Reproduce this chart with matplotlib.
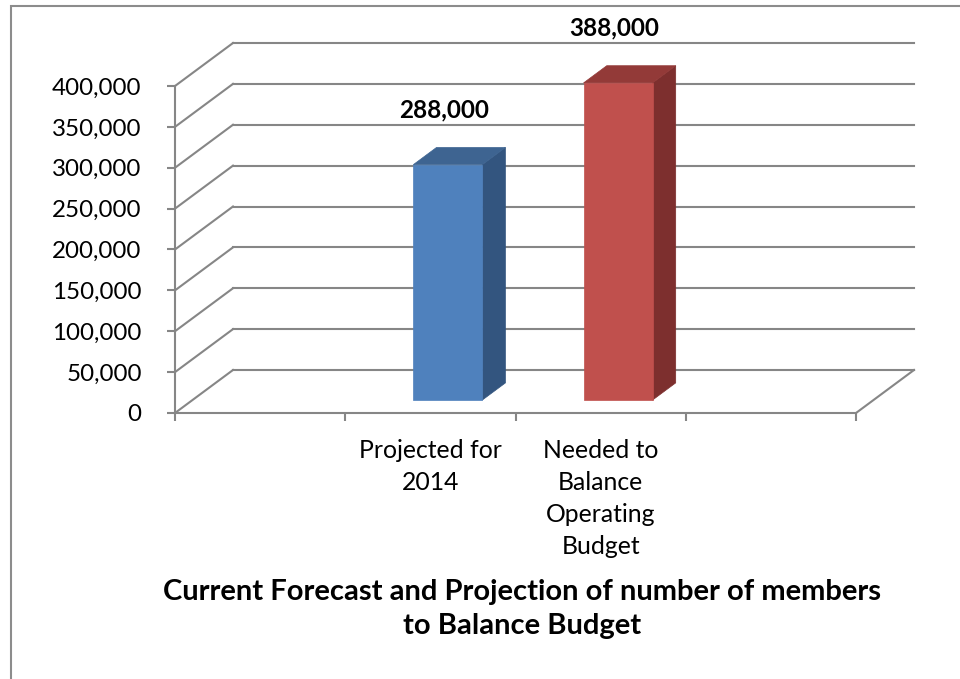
import matplotlib
matplotlib.use('Agg')
import matplotlib.pyplot as plt
from matplotlib.patches import Polygon, Rectangle
import numpy as np

plt.rcParams['font.family'] = ['Lato', 'DejaVu Sans']

# chart data
categories = ['Projected for\n2014', 'Needed to\nBalance\nOperating\nBudget']
values = [288000, 388000]
front_colors = ['#4F81BD', '#C0504D']
side_colors = ['#33557F', '#7D2F2E']
top_colors = ['#3E6491', '#933A38']
y_ticks = np.arange(0, 400001, 50000)
title = 'Current Forecast and Projection of number of members\nto Balance Budget'

W, H = 960, 679
grid_col = '#868686'

fig = plt.figure(figsize=(W / 100, H / 100), dpi=100)
# front plane of the plot: x 175..856 px, y 413..86 px
ax = fig.add_axes([175 / W, 1 - 413 / H, 681 / W, 327 / H])
ax.set_facecolor('none')
ax.set_xlim(0, 4)
ax.set_ylim(0, 400000)

# depth of the 3d box, as a data offset
p0 = ax.transData.transform((0, 0))
ddx, ddy = ax.transData.inverted().transform(p0 + np.array([58, 43]))

# back wall gridlines and side wall diagonals
for v in y_ticks:
    ax.plot([ddx, 4 + ddx], [v + ddy, v + ddy], color=grid_col, lw=1.5, clip_on=False, zorder=1)
    ax.plot([0, ddx], [v, v + ddy], color=grid_col, lw=1.5, clip_on=False, zorder=1)
# right edge of the floor
ax.plot([4, 4 + ddx], [0, ddy], color=grid_col, lw=1.5, clip_on=False, zorder=1)

# bars
x = np.arange(len(categories)) + 1.5
width = 0.405
f0, f1 = 0.3, 0.7
bars = ax.bar(x + f0 * ddx, values, width, bottom=f0 * ddy, color=front_colors,
              edgecolor=front_colors, linewidth=0.5, zorder=4)
for b in bars:
    b.set_clip_on(False)
for xi, v, sc, tc in zip(x, values, side_colors, top_colors):
    xl = xi - width / 2
    xr = xi + width / 2
    side = [(xr + f0 * ddx, f0 * ddy), (xr + f1 * ddx, f1 * ddy),
            (xr + f1 * ddx, v + f1 * ddy), (xr + f0 * ddx, v + f0 * ddy)]
    top = [(xl + f0 * ddx, v + f0 * ddy), (xr + f0 * ddx, v + f0 * ddy),
           (xr + f1 * ddx, v + f1 * ddy), (xl + f1 * ddx, v + f1 * ddy)]
    ax.add_patch(Polygon(side, closed=True, facecolor=sc, edgecolor=sc, lw=0.5, clip_on=False, zorder=3))
    ax.add_patch(Polygon(top, closed=True, facecolor=tc, edgecolor=tc, lw=0.5, clip_on=False, zorder=3))
    ax.annotate(f'{v:,}', (xi, v), xytext=(14, 68), textcoords='offset pixels',
                ha='center', va='center', fontsize=17.5, fontweight='bold', annotation_clip=False)

# axes styling
for s in ['top', 'right']:
    ax.spines[s].set_visible(False)
for s in ['left', 'bottom']:
    ax.spines[s].set_color(grid_col)
    ax.spines[s].set_linewidth(1.5)
ax.set_yticks(y_ticks)
ax.set_yticklabels([f'{v:,}' for v in y_ticks])
ax.tick_params(axis='y', length=6, width=1.5, color=grid_col, pad=18, labelsize=17.4)
ax.set_xticks(np.arange(0, 5))
ax.set_xticklabels([])
ax.tick_params(axis='x', which='major', length=6, width=1.5, color=grid_col)
ax.set_xticks(x, categories, minor=True)
ax.tick_params(axis='x', which='minor', length=0, pad=19, labelsize=17.8)
for lbl in ax.get_xticklabels(minor=True):
    lbl.set_linespacing(1.47)

fig.text(522 / W, 1 - 609 / H, title, ha='center', va='center',
         fontsize=21, fontweight='bold', linespacing=1.37)

# outer chart frame
fig.add_artist(Rectangle((11 / W, -0.1), 1.2, 1.1 - 6 / H, transform=fig.transFigure,
                         fill=False, edgecolor='#8c8c8c', lw=1.5))

fig.savefig('out.png', dpi=100)
